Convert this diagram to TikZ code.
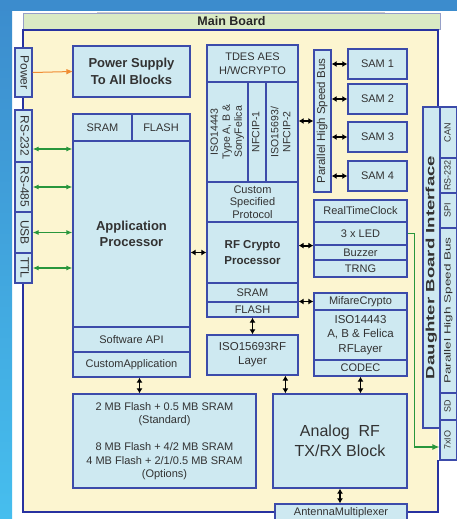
\documentclass[tikz,border=0pt]{standalone}
\usepackage{fontspec}
\setmainfont{Liberation Sans}
\usepackage{graphicx}
\usetikzlibrary{arrows.meta,positioning,calc}

\definecolor{bgtop}{RGB}{60,140,205}
\definecolor{bgbot}{RGB}{70,190,238}
\definecolor{boardfill}{RGB}{252,245,208}
\definecolor{hdrfill}{RGB}{218,234,196}
\definecolor{hdrline}{RGB}{150,160,200}
\definecolor{framecol}{RGB}{40,50,160}
\definecolor{boxfill}{RGB}{206,233,241}
\definecolor{boxline}{RGB}{60,75,170}
\definecolor{txtgray}{RGB}{50,50,50}
\definecolor{iogreen}{RGB}{40,150,60}
\definecolor{pwrorange}{RGB}{240,140,50}

\newcommand{\turnlbl}[2]{\rotatebox{#1}{\begin{tabular}{@{}c@{}}#2\end{tabular}}}

\tikzset{
    blk/.style={draw=boxline,fill=boxfill,line width=1.2pt,inner sep=0pt,align=center,text=txtgray,font=\fontsize{11}{13.5}\selectfont},
    sz/.style 2 args={minimum width=#1pt,minimum height=#2pt},
    port/.style={blk,font=\fontsize{12}{14}\selectfont},
    side/.style={blk,font=\fontsize{9}{11}\selectfont},
    link/.style={{Latex[length=5pt,width=6pt]}-{Latex[length=5pt,width=6pt]},line width=1.8pt,black},
    iolink/.style={{Latex[length=6pt,width=5pt]}-{Latex[length=6pt,width=5pt]},line width=1.2pt,iogreen},
    frame/.style={framecol,line width=2.6pt,line join=miter}
}

\begin{document}
\begin{tikzpicture}[x=1pt,y=-1pt,>=Stealth]
    \useasboundingbox (0,0) rectangle (457,519);
    % screen background
    \fill[white] (0,0) rectangle (457,519);
    \shade[top color=bgtop,bottom color=bgbot] (0,0) rectangle (12,519);
    \fill[bgtop] (0,0) rectangle (457,11);
    \draw[black!20,line width=2pt] (97,13) -- (385,13);
    % main board
    \node[draw=hdrline,fill=hdrfill,line width=0.8pt,sz={417}{16},font=\bfseries\fontsize{12.5}{14}\selectfont,text=black!85] (hdr) at (231.5,21) {Main Board};
    \fill[boardfill] (23,30) rectangle (438,512);
    \draw[frame] (438,107) -- (438,30) -- (23,30) -- (23,512) -- (438,512) -- (438,460);
    % left interfaces
    \node[port,sz={17}{49}] (pwr) at (23.5,72.5) {\turnlbl{-90}{Power}};
    \node[port,sz={17}{52}] (rs232) at (23.5,136) {\turnlbl{-90}{RS-232}};
    \node[port,sz={17}{50}] (rs485) at (23.5,187) {\turnlbl{-90}{RS-485}};
    \node[port,sz={17}{41}] (usb) at (23.5,232.5) {\turnlbl{-90}{USB}};
    \node[port,sz={17}{30}] (ttl) at (23.5,268) {\turnlbl{-90}{TTL}};
    % application side
    \node[blk,sz={117}{51},font=\bfseries\fontsize{13}{17}\selectfont] (psu) at (131.5,71.5) {Power Supply\\To All Blocks};
    \node[blk,sz={59}{27}] (sram) at (102.5,127.5) {SRAM};
    \node[blk,sz={58}{27}] (flash) at (161,127.5) {FLASH};
    \node[blk,sz={117}{186},font=\bfseries\fontsize{13}{15.5}\selectfont] (app) at (131.5,234) {Application\\Processor};
    \node[blk,sz={117}{25}] (swapi) at (131.5,339.5) {Software API};
    \node[blk,sz={117}{25}] (custapp) at (131.5,364.5) {CustomApplication};
    \node[blk,sz={183}{94}] (mem) at (164.5,441) {2 MB Flash + 0.5 MB SRAM\\(Standard)\\[13.5pt]8 MB Flash + 4/2 MB SRAM\\4 MB Flash + 2/1/0.5 MB SRAM\\(Options)};
    % rf crypto column
    \node[blk,sz={91}{37}] (tdes) at (252.5,63.5) {TDES AES\\H/WCRYPTO};
    \node[blk,sz={41}{100},font=\fontsize{10.5}{12}\selectfont] (isoa) at (227.5,132) {\turnlbl{90}{ISO14443\\Type A, B \&\\SonyFelica}};
    \node[blk,sz={18}{100},font=\fontsize{10.5}{12}\selectfont] (nfc1) at (257,132) {\turnlbl{90}{NFCIP-1}};
    \node[blk,sz={32}{100},font=\fontsize{10.5}{12}\selectfont] (isob) at (282,132) {\turnlbl{90}{ISO15693/\\NFCIP-2}};
    \node[blk,sz={91}{40},font=\fontsize{11}{12.5}\selectfont] (cust) at (252.5,202) {Custom\\Specified\\Protocol};
    \node[blk,sz={91}{61},font=\bfseries\fontsize{11.5}{16}\selectfont] (rfp) at (252.5,252.5) {RF Crypto\\Processor};
    \node[blk,sz={91}{19}] (sram2) at (252.5,292.5) {SRAM};
    \node[blk,sz={91}{15}] (flash2) at (252.5,309.5) {FLASH};
    \node[blk,sz={91}{40},font=\fontsize{11.5}{14}\selectfont] (rflayer) at (252.5,355) {ISO15693RF\\Layer};
    % bus and SAMs
    \node[blk,sz={17}{142},font=\fontsize{11.5}{13}\selectfont] (bus) at (322.5,121) {\turnlbl{90}{Parallel High Speed Bus}};
    \foreach \i/\y in {1/64,2/99,3/137,4/176}
      \node[blk,sz={59}{30}] (sam\i) at (377.5,\y) {SAM \i};
    % peripherals
    \node[blk,sz={93}{22}] (rtc) at (360.5,211) {RealTimeClock};
    \node[blk,sz={93}{23}] (led) at (360.5,233.5) {3 x LED};
    \node[blk,sz={93}{15}] (buzzer) at (360.5,252.5) {Buzzer};
    \node[blk,sz={93}{17}] (trng) at (360.5,268.5) {TRNG};
    \node[blk,sz={93}{17}] (mifare) at (360.5,301.5) {MifareCrypto};
    \node[blk,sz={93}{50},font=\fontsize{11.5}{14.5}\selectfont] (isolayer) at (360.5,335) {ISO14443\\A, B \& Felica\\RFLayer};
    \node[blk,sz={93}{16}] (codec) at (360.5,368) {CODEC};
    \node[blk,sz={134}{94},font=\fontsize{16}{20}\selectfont] (analog) at (340,441) {Analog\ \ RF\\TX/RX Block};
    \node[blk,sz={132}{18}] (antenna) at (341,513) {AntennaMultiplexer};
    % daughter board interface
    \node[blk,sz={17}{321},font=\bfseries\fontsize{12}{14}\selectfont] (dbi) at (431.5,267.5) {\turnlbl{90}{\scalebox{1.55}[1]{Daughter Board Interface}}};
    \node[side,sz={17}{51}] (can) at (448.5,132.5) {\turnlbl{90}{CAN}};
    \node[side,sz={17}{35}] (rsb) at (448.5,175.5) {\turnlbl{90}{RS-232}};
    \node[side,sz={17}{35}] (spi) at (448.5,210.5) {\turnlbl{90}{SPI}};
    \node[side,sz={17}{165}] (pbus) at (448.5,310.5) {\turnlbl{90}{\scalebox{1.5}[1]{Parallel High Speed Bus}}};
    \node[side,sz={17}{27}] (sd) at (448.5,406.5) {\turnlbl{90}{SD}};
    \node[side,sz={17}{40}] (io7) at (448.5,440) {\turnlbl{90}{7xIO}};
    % connections
    \draw[-{Triangle[length=6pt,width=5pt]},line width=1pt,pwrorange] (pwr.east) -- (psu.west);
    \path ([yshift=-13pt]rs232.east) coordinate (c232);
    \draw[iolink] (c232) -- (c232 -| app.west);
    \foreach \n in {rs485,usb,ttl}
      \draw[iolink] (\n.east) -- (\n.east -| app.west);
    \draw[link] (rfp.west -| app.east) -- (rfp.west);
    \draw[link] (bus.west -| isob.east) -- (bus.west);
    \foreach \i in {1,...,4}
      \draw[link] (sam\i.west -| bus.east) -- (sam\i.west);
    \draw[link] (led.south west -| rfp.east) -- (led.south west);
    \draw[link] (mifare.west -| sram2.east) -- (mifare.west);
    \path ([xshift=8pt]custapp.south) coordinate (cmem);
    \draw[link] (cmem) -- (cmem |- mem.north);
    \draw[link] (flash2.south) -- (rflayer.north);
    \path ([xshift=13pt]analog.north west) coordinate (canl);
    \draw[link] (canl |- rflayer.south) -- (canl);
    \draw[link] (codec.south) -- (codec.south |- analog.north);
    \draw[link] (analog.south) -- (analog.south |- antenna.north);
    \draw[-{Latex[length=7pt,width=6pt]},line width=1.2pt,iogreen] (led.east) -- ++(7,0) |- ([yshift=-7pt]io7.west);
\end{tikzpicture}
\end{document}
